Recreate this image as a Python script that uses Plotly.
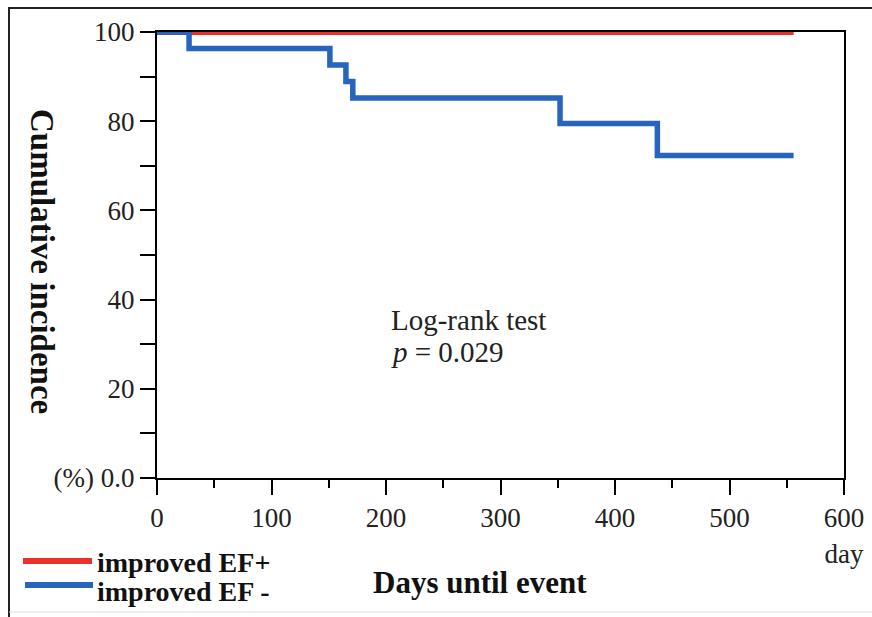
import plotly.graph_objects as go

# Kaplan-Meier style step data (days, cumulative incidence in %)
days_ef_pos = [0, 556]
pct_ef_pos = [100, 100]

days_ef_neg = [0, 28, 151, 165, 171, 352, 437, 556]
pct_ef_neg = [100, 96.3, 92.6, 88.9, 85.2, 79.5, 72.3, 72.3]

series_names = ["improved EF+", "improved EF -"]
series_colors = ["#e8322b", "#2764bd"]

x_tickvals = [0, 100, 200, 300, 400, 500, 600]
x_ticktext = ["0", "100", "200", "300", "400", "500", "600<br>day"]
y_tickvals = [0, 20, 40, 60, 80, 100]
y_ticktext = ["(%) 0.0", "20", "40", "60", "80", "100"]

test_label = "Log-rank test"
p_label = "<i>p</i> = 0.029"

FONT = "Liberation Serif"
W, H = 872, 617
ML, MR, MT, MB = 157, 28, 32, 139
PW, PH = W - ML - MR, H - MT - MB


def px(xp):
    return (xp - ML) / PW


def py(yp):
    return (H - MB - yp) / PH


fig = go.Figure()
fig.add_trace(go.Scatter(x=days_ef_pos, y=pct_ef_pos, mode="lines", line_shape="hv",
                         line=dict(color=series_colors[0], width=6),
                         name=series_names[0], showlegend=False))
fig.add_trace(go.Scatter(x=days_ef_neg, y=pct_ef_neg, mode="lines", line_shape="hv",
                         line=dict(color=series_colors[1], width=5.5),
                         name=series_names[1], showlegend=False))

axis_common = dict(showgrid=False, zeroline=False, showline=True, linecolor="black",
                   linewidth=2, mirror=True, ticks="outside", tickcolor="black",
                   tickwidth=2, ticklen=15, automargin=False, layer="above traces",
                   tickfont=dict(family=FONT, size=27, color="#222"))

fig.update_xaxes(range=[0, 600], tickvals=x_tickvals, ticktext=x_ticktext,
                 minor=dict(dtick=50, tick0=0, ticklen=8, tickwidth=2,
                            tickcolor="black", ticks="outside"),
                 **axis_common)
fig.update_yaxes(range=[0, 100], tickvals=y_tickvals, ticktext=y_ticktext,
                 minor=dict(dtick=10, tick0=0, ticklen=15, tickwidth=2,
                            tickcolor="black", ticks="outside"),
                 **axis_common)

annotations = [
    dict(x=203, y=35.5, xref="x", yref="y", text=test_label, showarrow=False,
         xanchor="left", yanchor="middle", font=dict(family=FONT, size=29, color="#222")),
    dict(x=203, y=28.3, xref="x", yref="y", text=p_label, showarrow=False,
         xanchor="left", yanchor="middle", font=dict(family=FONT, size=29, color="#222")),
    dict(x=px(42), y=py(262), xref="paper", yref="paper", text="<b>Cumulative incidence</b>",
         textangle=90, showarrow=False, xanchor="center", yanchor="middle",
         font=dict(family=FONT, size=33, color="#111")),
    dict(x=px(480), y=py(582), xref="paper", yref="paper", text="<b>Days until event</b>",
         showarrow=False, xanchor="center", yanchor="middle",
         font=dict(family=FONT, size=31, color="#111")),
    dict(x=px(95), y=py(562), xref="paper", yref="paper", text="<b>" + series_names[0] + "</b>",
         showarrow=False, xanchor="left", yanchor="middle",
         font=dict(family=FONT, size=28, color="#111")),
    dict(x=px(95), y=py(591), xref="paper", yref="paper", text="<b>" + series_names[1] + "</b>",
         showarrow=False, xanchor="left", yanchor="middle",
         font=dict(family=FONT, size=28, color="#111")),
]

shapes = [
    # legend swatches
    dict(type="line", xref="paper", yref="paper", x0=px(23), x1=px(92), y0=py(561), y1=py(561),
         line=dict(color=series_colors[0], width=6)),
    dict(type="line", xref="paper", yref="paper", x0=px(25), x1=px(93), y0=py(585), y1=py(585),
         line=dict(color=series_colors[1], width=6)),
    # outer frame
    dict(type="line", xref="paper", yref="paper", x0=px(8), x1=px(W), y0=py(8), y1=py(8),
         line=dict(color="#222", width=2)),
    dict(type="line", xref="paper", yref="paper", x0=px(9), x1=px(9), y0=py(8), y1=py(H),
         line=dict(color="#222", width=2)),
    dict(type="line", xref="paper", yref="paper", x0=px(9), x1=px(W), y0=py(612), y1=py(612),
         line=dict(color="#dddddd", width=1)),
]

fig.update_layout(width=W, height=H, margin=dict(l=ML, r=MR, t=MT, b=MB),
                  plot_bgcolor="white", paper_bgcolor="white",
                  annotations=annotations, shapes=shapes, showlegend=False)

fig.write_html("out.html")
